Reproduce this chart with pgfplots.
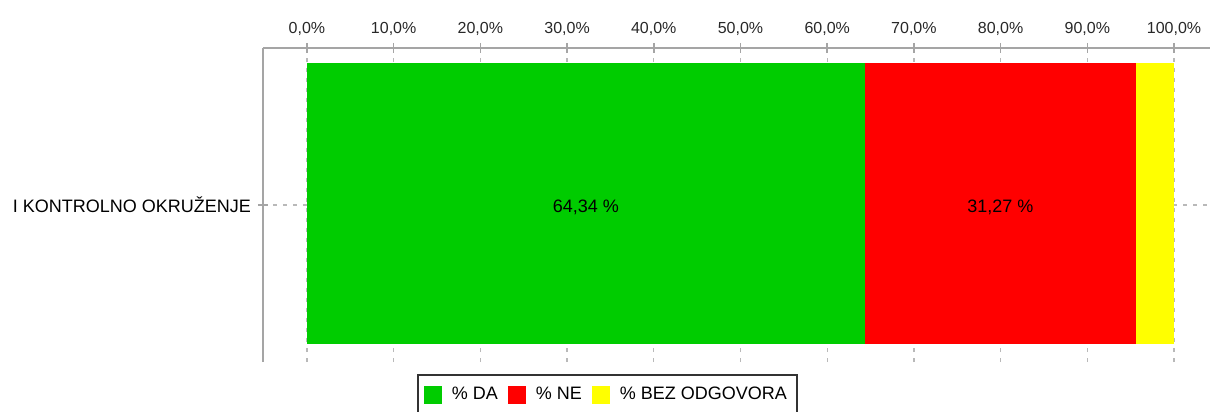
\documentclass[border=0pt]{standalone}
\usepackage{pgfplots}
\pgfplotsset{compat=1.18}
\usepackage{fontspec}
\setmainfont{Liberation Sans}
\definecolor{cda}{RGB}{0,204,0}
\definecolor{cne}{RGB}{255,0,0}
\definecolor{cbez}{RGB}{255,255,0}
\definecolor{axgray}{RGB}{165,165,165}
\definecolor{gridgray}{RGB}{185,185,185}
\definecolor{txt}{RGB}{40,40,40}
\pgfplotsset{sqleg/.style={legend image code/.code={\fill[##1] (0pt,-4.5pt) rectangle (9pt,4.5pt); \path (12pt,0pt);}}}
\begin{document}
\begin{tikzpicture}
\begin{axis}[
 at={(0,0)}, anchor=south west,
 scale only axis, width=473.5pt, height=157pt,
 xmin=-5.07, xmax=104.15, ymin=0, ymax=314,
 xbar stacked, bar width=281,
 axis x line*=top, axis y line*=left,
 axis line style={axgray, line width=1pt},
 xtick={0,10,20,30,40,50,60,70,80,90,100},
 xticklabels={{0,0\%},{10,0\%},{20,0\%},{30,0\%},{40,0\%},{50,0\%},{60,0\%},{70,0\%},{80,0\%},{90,0\%},{100,0\%}},
 ytick={157}, yticklabels={I KONTROLNO OKRUŽENJE},
 tick align=center, major tick length=5pt,
 tick style={axgray, line width=0.8pt},
 xmajorgrids, ymajorgrids,
 grid style={gridgray, dash pattern=on 2pt off 3pt, line width=0.6pt},
 xticklabel style={font=\fontsize{8}{9}\selectfont, text=txt},
 yticklabel style={font=\fontsize{9}{10}\selectfont, text=black},
 legend columns=-1,
 legend style={at={(axis cs:34.66,0)}, anchor=north, yshift=-6pt, draw=black!80, line width=0.8pt, inner ysep=4pt, font=\fontsize{9}{10}\selectfont, /tikz/every even column/.append style={column sep=3pt}},
 every axis plot post/.append style={draw=none, sqleg},
]
\addplot[fill=cda] coordinates {(64.34,158.5)};
\addplot[fill=cne] coordinates {(31.27,158.5)};
\addplot[fill=cbez] coordinates {(4.39,158.5)};
\legend{\% DA, \% NE, \% BEZ ODGOVORA}
\coordinate (L1) at (axis cs:32.17,155);
\coordinate (L2) at (axis cs:79.975,155);
\end{axis}
\node[font=\fontsize{9}{10}\selectfont, text=black] at (L1) {64,34 \%};
\node[font=\fontsize{9}{10}\selectfont, text=black] at (L2) {31,27 \%};
\pgfresetboundingbox
\path[use as bounding box] (-131.5pt,-25pt) rectangle (473.5pt,181pt);
\end{tikzpicture}
\end{document}
